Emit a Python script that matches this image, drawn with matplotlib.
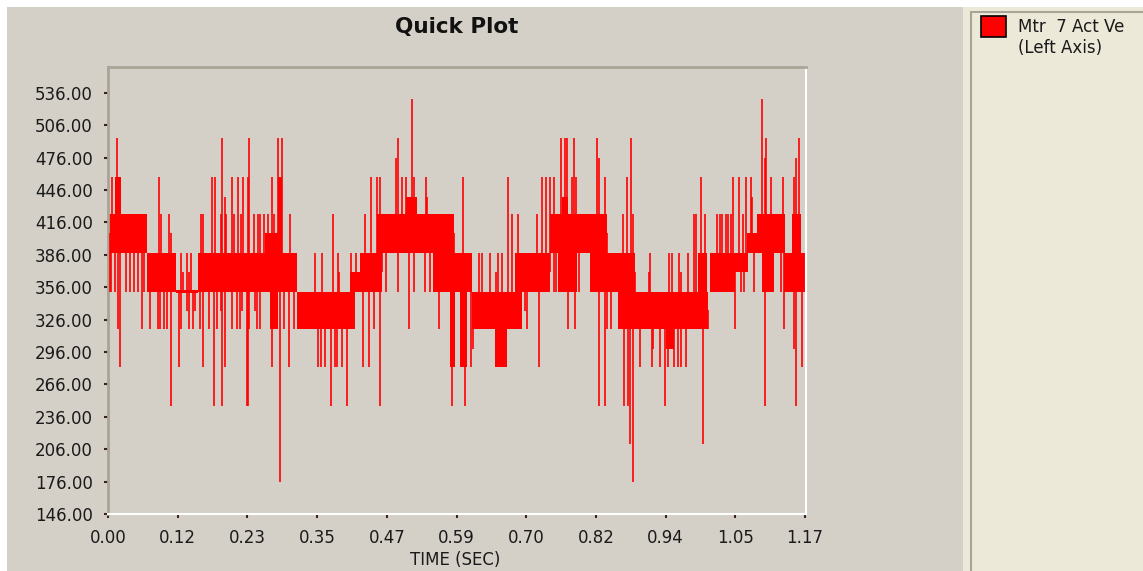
import matplotlib

matplotlib.use("Agg")
import matplotlib.pyplot as plt
import numpy as np
from matplotlib.patches import Rectangle

# Quantised motor velocity trace: solid blocks where the reading toggles
# between two adjacent counts, plus single-sample excursions.
band_t0 = [0.002, 0.012, 0.065, 0.114, 0.152, 0.264, 0.272, 0.286, 0.317, 0.407,
           0.424, 0.452, 0.501, 0.547, 0.575, 0.592, 0.612, 0.651, 0.684, 0.743,
           0.757, 0.763, 0.810, 0.858, 0.938, 0.992, 1.012, 1.054, 1.074, 1.091,
           1.099, 1.136, 1.150]
band_t1 = [0.065, 0.022, 0.114, 0.152, 0.317, 0.286, 0.286, 0.293, 0.415, 0.424,
           0.461, 0.581, 0.519, 0.612, 0.583, 0.603, 0.696, 0.670, 0.743, 0.839,
           0.788, 0.774, 0.886, 1.009, 0.952, 1.007, 1.054, 1.076, 1.091, 1.138,
           1.119, 1.172, 1.165]
band_lo = [388, 424, 352, 350.5, 352, 388, 317, 388, 317, 352,
           352, 388, 424, 352, 282, 282, 317, 282, 352, 388,
           352, 424, 352, 317, 299, 352, 352, 370, 388, 388,
           352, 352, 388]
band_hi = [424, 458, 388, 353.5, 388, 406, 352, 458, 352, 370,
           388, 424, 440, 388, 352, 352, 352, 317, 388, 424,
           388, 440, 388, 352, 317, 388, 388, 388, 406, 424,
           388, 388, 424]

up_t = [0.006, 0.015, 0.086, 0.089, 0.103, 0.106, 0.123, 0.126, 0.132, 0.137,
        0.140, 0.156, 0.160, 0.175, 0.180, 0.190, 0.192, 0.196, 0.198, 0.209,
        0.212, 0.219, 0.224, 0.227, 0.235, 0.237, 0.246, 0.253, 0.256, 0.263,
        0.269, 0.275, 0.279, 0.285, 0.292, 0.306, 0.348, 0.359, 0.379, 0.386,
        0.388, 0.409, 0.417, 0.432, 0.442, 0.452, 0.458, 0.461, 0.484, 0.487,
        0.494, 0.501, 0.511, 0.515, 0.534, 0.536, 0.597, 0.624, 0.629, 0.643,
        0.652, 0.656, 0.663, 0.673, 0.680, 0.690, 0.721, 0.729, 0.736, 0.743,
        0.750, 0.762, 0.768, 0.772, 0.780, 0.783, 0.786, 0.822, 0.826, 0.836,
        0.865, 0.872, 0.879, 0.883, 0.909, 0.912, 0.944, 0.948, 0.960, 0.964,
        0.975, 0.986, 0.988, 0.997, 1.004, 1.024, 1.029, 1.033, 1.039, 1.042,
        1.048, 1.051, 1.061, 1.067, 1.072, 1.081, 1.083, 1.100, 1.104, 1.107,
        1.114, 1.127, 1.134, 1.154, 1.157, 1.161]
up_v = [458, 494, 458, 424, 424, 406, 388, 370, 388, 370,
        388, 424, 424, 458, 458, 424, 494, 440, 424, 458,
        424, 458, 424, 458, 458, 494, 424, 424, 424, 424,
        424, 458, 424, 494, 494, 424, 388, 388, 424, 388,
        370, 388, 388, 424, 458, 458, 458, 424, 476, 494,
        458, 458, 530, 458, 458, 440, 458, 388, 388, 388,
        370, 388, 388, 458, 424, 424, 424, 458, 458, 458,
        458, 494, 494, 494, 458, 494, 458, 494, 476, 458,
        424, 458, 494, 424, 370, 388, 388, 388, 388, 370,
        388, 424, 424, 458, 424, 424, 424, 424, 424, 424,
        424, 458, 458, 424, 458, 458, 440, 530, 476, 494,
        458, 424, 458, 458, 476, 494]

dn_t = [0.003, 0.005, 0.012, 0.017, 0.020, 0.030, 0.037, 0.044, 0.050, 0.057,
        0.061, 0.070, 0.084, 0.087, 0.094, 0.099, 0.106, 0.119, 0.122, 0.133,
        0.137, 0.143, 0.146, 0.154, 0.159, 0.170, 0.179, 0.183, 0.190, 0.192,
        0.196, 0.208, 0.217, 0.222, 0.226, 0.233, 0.236, 0.237, 0.247, 0.250,
        0.256, 0.275, 0.282, 0.289, 0.296, 0.305, 0.313, 0.353, 0.358, 0.365,
        0.375, 0.382, 0.385, 0.393, 0.401, 0.428, 0.438, 0.447, 0.458, 0.467,
        0.487, 0.506, 0.515, 0.533, 0.541, 0.557, 0.578, 0.581, 0.594, 0.600,
        0.610, 0.613, 0.701, 0.704, 0.725, 0.749, 0.754, 0.773, 0.785, 0.792,
        0.813, 0.819, 0.826, 0.836, 0.839, 0.846, 0.868, 0.874, 0.877, 0.882,
        0.886, 0.895, 0.914, 0.917, 0.928, 0.937, 0.941, 0.951, 0.959, 0.964,
        0.971, 1.001, 1.008, 1.054, 1.064, 1.070, 1.086, 1.104, 1.131, 1.137,
        1.154, 1.157, 1.161, 1.166]
dn_v = [352, 352, 352, 317, 282, 352, 352, 352, 352, 317,
        352, 317, 317, 317, 317, 317, 246, 282, 317, 334,
        317, 317, 334, 317, 282, 317, 246, 317, 334, 246,
        282, 317, 317, 317, 334, 246, 246, 317, 334, 317,
        317, 282, 317, 176, 317, 282, 317, 282, 282, 282,
        246, 282, 282, 282, 246, 282, 282, 317, 246, 352,
        352, 317, 352, 352, 352, 317, 246, 282, 282, 246,
        282, 299, 334, 317, 282, 352, 352, 317, 317, 352,
        352, 352, 246, 246, 317, 317, 246, 246, 211, 176,
        317, 282, 282, 299, 282, 246, 282, 282, 282, 282,
        282, 211, 317, 317, 352, 352, 352, 246, 352, 317,
        299, 246, 352, 282]

x_ticks = [0.0, 0.1172, 0.2344, 0.3516, 0.4688, 0.586, 0.7032, 0.8204, 0.9376, 1.0548, 1.172]
y_ticks = [146, 176, 206, 236, 266, 296, 326, 356, 386, 416, 446, 476, 506, 536]

BG = "#D4D0C8"
PANEL = "#ECE9D8"
RED = "#FF0000"
TICK = "#3C2020"
W, H = 1143, 571


def band_mid(t):
    for t0, t1, lo, hi in zip(band_t0, band_t1, band_lo, band_hi):
        if t0 <= t <= t1:
            return (lo + hi) / 2
    return 370.0


fig = plt.figure(figsize=(W / 100, H / 100), dpi=100, facecolor=BG)

# legend panel on the right and the thin white window edges
fig.patches.append(Rectangle((963 / W, 0), (W - 963) / W, 1, transform=fig.transFigure,
                             facecolor=PANEL, edgecolor="none", zorder=0))
fig.patches.append(Rectangle((971 / W, -0.01), 1, 1 - 12 / H + 0.01, transform=fig.transFigure,
                             facecolor="none", edgecolor="#A8A597", lw=1.5, zorder=1))
fig.patches.append(Rectangle((0, 1 - 7 / H), 1, 7 / H, transform=fig.transFigure,
                             facecolor="white", edgecolor="none", zorder=2))
fig.patches.append(Rectangle((0, 0), 7 / W, 1, transform=fig.transFigure,
                             facecolor="white", edgecolor="none", zorder=2))

ax = fig.add_axes([108 / W, (H - 514) / H, (806 - 108) / W, (514 - 67) / H])
ax.set_facecolor(BG)

widths = np.array(band_t1) - np.array(band_t0)
heights = np.array(band_hi) - np.array(band_lo)
ax.bar(band_t0, heights, width=widths, bottom=band_lo, align="edge",
       color=RED, linewidth=0, zorder=2)
ax.vlines(up_t, [band_mid(t) for t in up_t], up_v, color=RED, lw=1.2, zorder=3)
ax.vlines(dn_t, [band_mid(t) for t in dn_t], dn_v, color=RED, lw=1.2, zorder=3)

ax.set_xlim(0, 1.1735)
ax.set_ylim(146, 560)
ax.set_xticks(x_ticks)
ax.set_xticklabels([f"{v:.2f}" for v in x_ticks])
ax.set_yticks(y_ticks)
ax.set_yticklabels([f"{v:.2f}" for v in y_ticks])
ax.tick_params(axis="both", colors=TICK, labelcolor="#1A1A1A", labelsize=12,
               length=3, width=1.5, direction="out")
ax.tick_params(axis="y", pad=8)
ax.tick_params(axis="x", pad=8)

for side in ("left", "top"):
    ax.spines[side].set_color("#A8A597")
    ax.spines[side].set_linewidth(2)
for side in ("right", "bottom"):
    ax.spines[side].set_color("white")
    ax.spines[side].set_linewidth(1.5)

fig.text(457 / W, 1 - 27 / H, "Quick Plot", ha="center", va="center",
         fontsize=15.5, fontweight="bold", color="#111111")
fig.text(455 / W, 1 - 560 / H, "TIME (SEC)", ha="center", va="center",
         fontsize=12, color="#1A1A1A")

# legend entry
fig.patches.append(Rectangle((981 / W, 1 - 37 / H), 25 / W, 21 / H, transform=fig.transFigure,
                             facecolor=RED, edgecolor="black", lw=1.2, zorder=3))
fig.text(1018 / W, 1 - 27 / H, "Mtr  7 Act Ve", ha="left", va="center",
         fontsize=12, color="#1A1A1A")
fig.text(1018 / W, 1 - 48 / H, "(Left Axis)", ha="left", va="center",
         fontsize=12, color="#1A1A1A")

fig.savefig("out.png", dpi=100, facecolor=BG)
